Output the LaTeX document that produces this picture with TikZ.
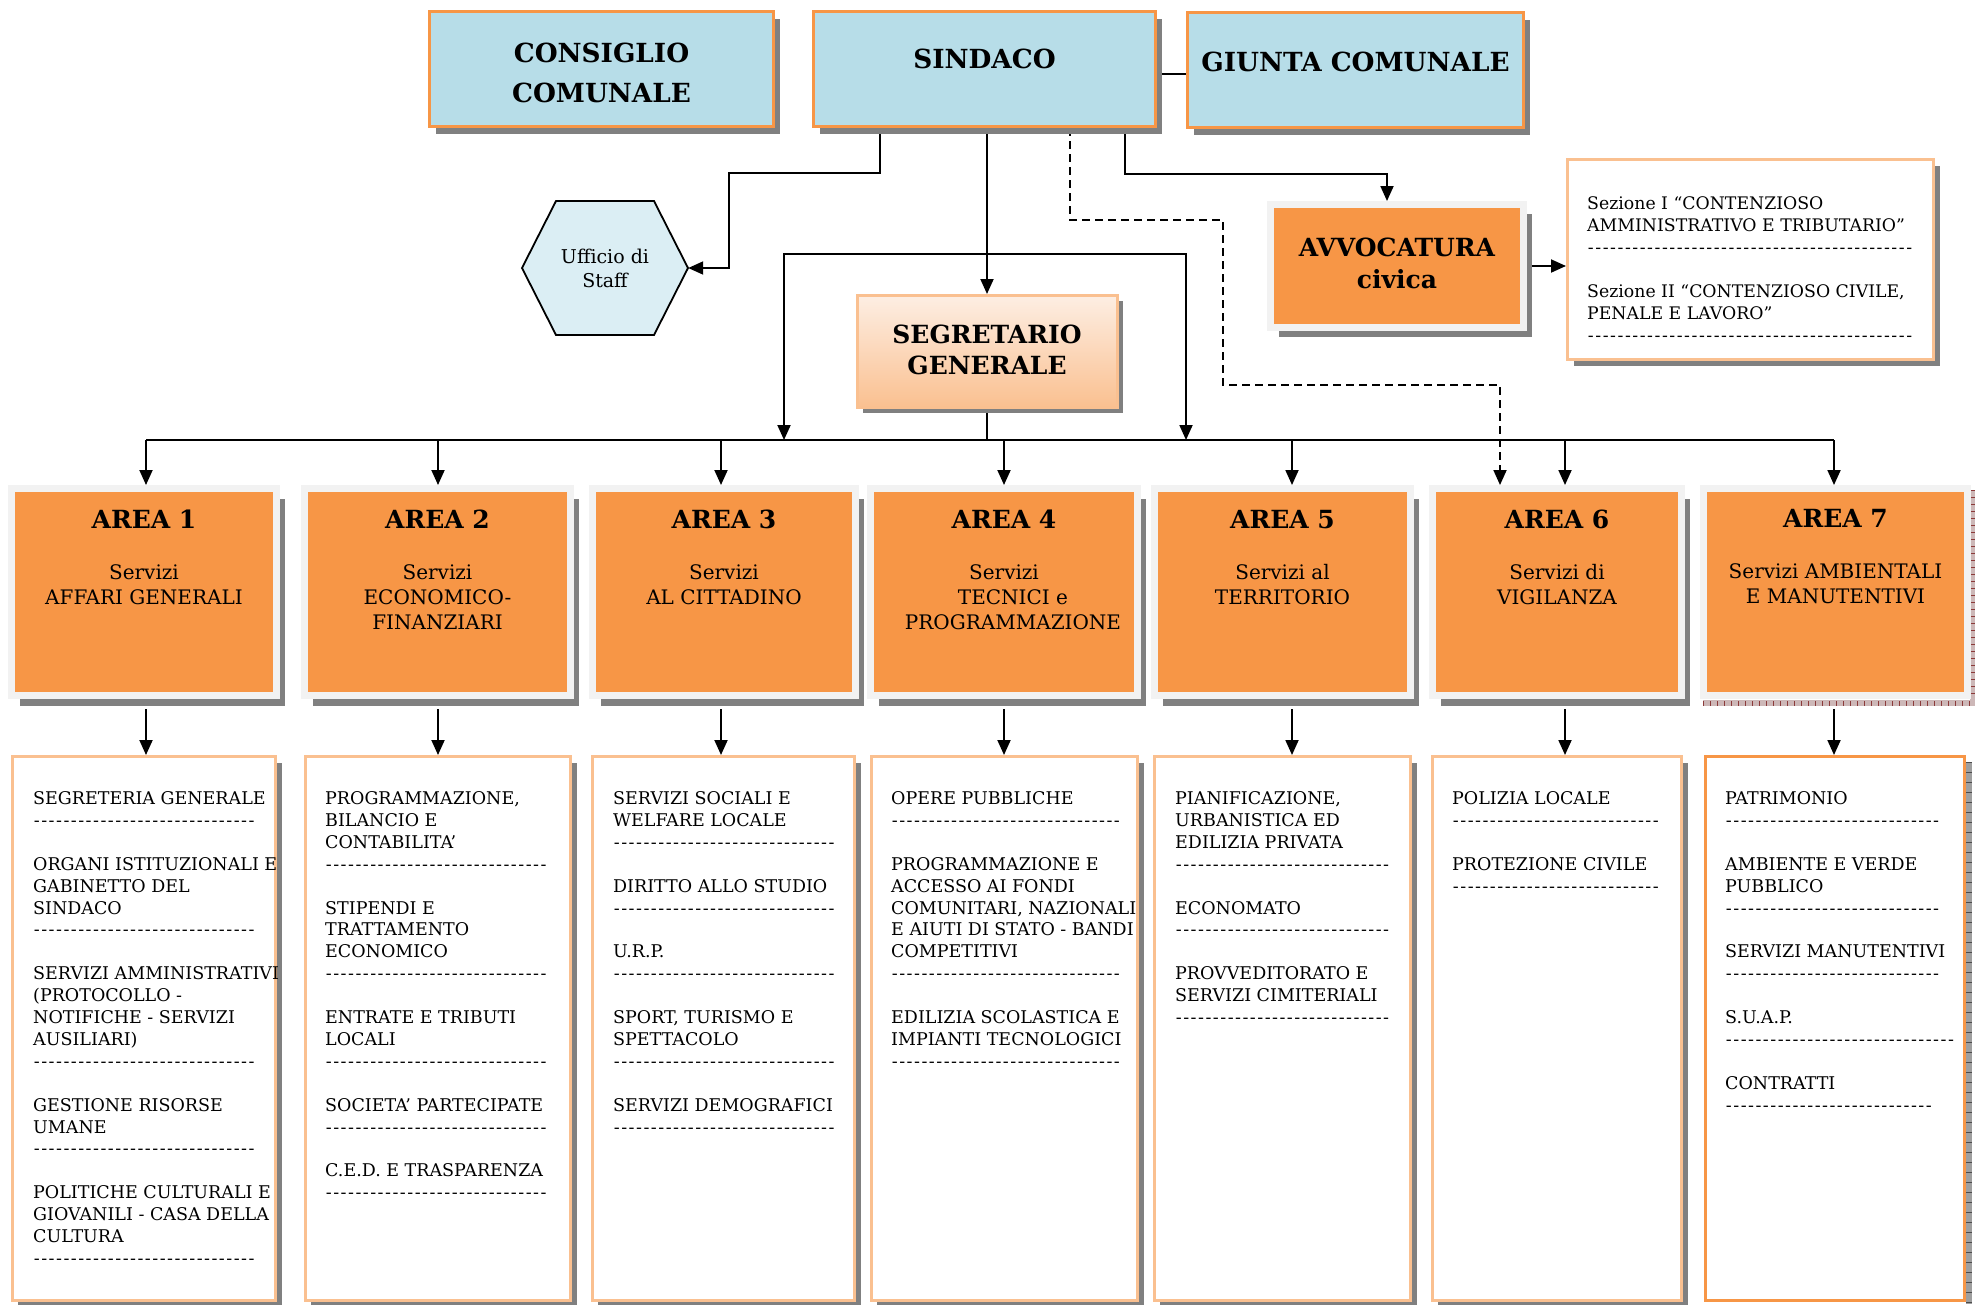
\documentclass[tikz,border=0pt]{standalone}
\usepackage{fontspec}
\setmainfont{DejaVu Serif}
\usetikzlibrary{arrows.meta,shadows,calc,shapes.geometric}
\pgfdeclarelayer{back}
\pgfdeclarelayer{links}
\pgfsetlayers{back,links,main}
\definecolor{topblue}{HTML}{B7DDE8}
\definecolor{hexblue}{HTML}{DBEEF4}
\definecolor{accorange}{HTML}{F79646}
\definecolor{lightorange}{HTML}{FAC090}
\definecolor{palepeach}{HTML}{FDEEE3}
\definecolor{framegray}{HTML}{F2F2F2}
\definecolor{shadowgray}{HTML}{808080}
\definecolor{hatchbase}{HTML}{CDB8B8}
\definecolor{hatchtick}{HTML}{8B3A3A}
\newcommand\fstrut{\rule{0pt}{0.9em}}
\newcommand\dashes[1]{\hbox to \dimexpr 7.4pt*#1\relax{\leaders\hbox to 7.4pt{\hss-\hss}\hfill}}
\begin{document}
\begin{tikzpicture}[x=1pt,y=-1pt,
  myshadow/.style 2 args={drop shadow={shadow xshift=#1pt,shadow yshift=-#2pt,fill=shadowgray,opacity=1}},
  topbox/.style={draw=accorange,line width=3pt,fill=topblue,inner sep=0pt,minimum height=115pt,myshadow={6.5}{7}},
  segbox/.style={draw=lightorange,line width=3pt,top color=palepeach,bottom color=lightorange,inner sep=0pt,minimum width=260pt,minimum height=112pt,myshadow={5.5}{5.5}},
  avvbox/.style={draw=framegray,line width=7pt,fill=accorange,inner sep=0pt,minimum width=253pt,minimum height=123pt,myshadow={8.5}{9.5}},
  sezbox/.style={draw=lightorange,line width=3pt,fill=white,inner sep=0pt,minimum width=366pt,minimum height=200pt,myshadow={6.5}{6.5}},
  areabox/.style={draw=framegray,line width=7pt,fill=accorange,inner sep=0pt,minimum height=207pt},
  areashadow/.style={myshadow={8.5}{10.5}},
  listbox/.style={draw=lightorange,line width=2.7pt,fill=white,inner sep=0pt,minimum height=544.3pt},
  listshadow/.style={myshadow={6}{6.5}},
  conn/.style={line width=1.9pt,draw=black},
  arr/.style={conn,-{Triangle[length=15pt,width=13pt]}},
  dashconn/.style={arr,dash pattern=on 8pt off 5pt},
  txt/.style={inner sep=0pt,anchor=north,align=center},
  ltxt/.style={inner sep=0pt,anchor=north west,align=left},
  bigfont/.style={font=\fontsize{26.3}{40}\selectfont\bfseries},
  titlefont/.style={font=\fontsize{25}{31}\selectfont\bfseries},
  subfont/.style={font=\fontsize{20}{25}\selectfont},
  listfont/.style={font=\fontsize{17.5}{21.9}\selectfont}
]
\begin{pgfonlayer}{back}
\fill[white] (0,0) rectangle (1980,1304);
\end{pgfonlayer}
\useasboundingbox (0,0) rectangle (1980,1304);

% ---- top row
\node[topbox,minimum width=344pt] (consiglio) at (601.5,69) {};
\node[topbox,minimum width=342pt] (sindaco) at (984.5,69) {};
\node[topbox,minimum width=336pt] (giunta) at (1355.5,70) {};

% ---- staff hexagon
\draw[fill=hexblue,line width=1.8pt] (522,268) -- (556,201) -- (654,201) -- (688,268) -- (654,335) -- (556,335) -- cycle;
\node[inner sep=0pt,minimum width=166pt,minimum height=134pt,align=center,font=\fontsize{19}{24}\selectfont] (staff) at (605,268) {Ufficio di\\Staff};

% ---- segretario, avvocatura, sezioni
\node[segbox] (seg) at (987,351.5) {};
\node[avvbox] (avv) at (1397,266) {};
\node[sezbox] (sez) at (1750.5,259.5) {};

% ---- special shadows (area 7, list 7)
\fill[hatchbase] (1703,700) rectangle (1975,706);
\fill[hatchbase] (1970,490) rectangle (1975,706);
\draw[hatchtick,line width=5pt,dash pattern=on 1pt off 6pt] (1703,703) -- (1975,703);
\draw[hatchtick,line width=4pt,dash pattern=on 1pt off 6pt] (1973,490) -- (1973,700);
\fill[gray!75] (1966,762) rectangle (1972,1304);
\draw[black!70,line width=6pt,dash pattern=on 1.2pt off 8.8pt] (1969,762) -- (1969,1304);

% ---- areas
\node[areabox,areashadow,minimum width=265pt] (area1) at (144,592) {};
\node[areabox,areashadow,minimum width=266pt] (area2) at (437.5,592) {};
\node[areabox,areashadow,minimum width=263pt] (area3) at (724,592) {};
\node[areabox,areashadow,minimum width=267pt] (area4) at (1004,592) {};
\node[areabox,areashadow,minimum width=256pt] (area5) at (1282.5,592) {};
\node[areabox,areashadow,minimum width=249pt] (area6) at (1557,592) {};
\node[areabox,minimum width=264pt] (area7) at (1835.5,592) {};

% ---- lists
\node[listbox,listshadow,minimum width=263.3pt] (list1) at (144,1028.5) {};
\node[listbox,listshadow,minimum width=265.3pt] (list2) at (438,1028.5) {};
\node[listbox,listshadow,minimum width=262.3pt] (list3) at (723.5,1028.5) {};
\node[listbox,listshadow,minimum width=266.3pt] (list4) at (1004.5,1028.5) {};
\node[listbox,listshadow,minimum width=256.3pt] (list5) at (1282.5,1028.5) {};
\node[listbox,listshadow,minimum width=249.3pt] (list6) at (1557,1028.5) {};
\node[listbox,draw=accorange,minimum width=259.3pt] (list7) at (1835,1028.5) {};

% ---- helper coordinates
\coordinate (s1) at (880,0);
\coordinate (d1) at (1070,0);
\coordinate (d6) at (1500,0);
\coordinate (a1) at (1125,0);
\coordinate (a2) at (1387,0);
\coordinate (g1) at (0,74);
\coordinate (brc) at (987,254);
\coordinate (brl) at (784,440);
\coordinate (brr) at (1186,440);
\coordinate (b1) at (146,440);
\coordinate (b2) at (438,440);
\coordinate (b3) at (721,440);
\coordinate (b4) at (1004,440);
\coordinate (b5) at (1292,440);
\coordinate (b6) at (1565,440);
\coordinate (b7) at (1834,440);

% ---- connectors
\begin{pgfonlayer}{links}
\draw[conn] (sindaco.east |- g1) -- (giunta.west |- g1);
\draw[arr] (sindaco.south -| s1) -- (880,173) -| (729,268) -- (staff.east);
\draw[arr] (sindaco.south -| seg.north) -- (seg.north);
\draw[arr] (brc) -| (brl);
\draw[arr] (brc) -| (brr);
\draw[dashconn] (sindaco.south -| d1) -- (1070,220) -| (1223,385) -| (d6 |- area6.north);
\draw[arr] (sindaco.south -| a1) -- (1125,174) -| (a2 |- avv.north);
\draw[arr] (avv.east) -- (avv.east -| sez.west);
\draw[conn] (seg.south) -- (seg.south |- b1);
\draw[conn] (b1) -- (b7);
\foreach \i in {1,...,7}{
  \draw[arr] (b\i) -- (b\i |- area\i.north);
  \draw[arr] ($(b\i |- area\i.south)+(0,10)$) -- (b\i |- list\i.north);
}
\end{pgfonlayer}

% ---- texts
\node[txt,bigfont] (consT) at (601.5,38.9) {\fstrut CONSIGLIO\\COMUNALE};
\node[txt,bigfont] (sinT) at (984.5,44.9) {\fstrut SINDACO};
\node[txt,bigfont] (giuT) at (1355.5,47.9) {\fstrut GIUNTA COMUNALE};
\node[txt,titlefont] (segT) at (987,320.6) {\fstrut SEGRETARIO\\GENERALE};
\node[txt,font=\fontsize{25}{32}\selectfont\bfseries] (avvT) at (1397,233.6) {\fstrut AVVOCATURA\\civica};
\node[ltxt,font=\fontsize{17.3}{22}\selectfont] (sezT) at (1587,193.7) {\fstrut Sezione I “CONTENZIOSO\\AMMINISTRATIVO E TRIBUTARIO”\\\dashes{44}\\[22pt]Sezione II “CONTENZIOSO CIVILE,\\PENALE E LAVORO”\\\dashes{44}};

\node[txt,titlefont] (a1T) at (144,505.6) {\fstrut AREA 1};
\node[txt,titlefont] (a2T) at (437.5,505.6) {\fstrut AREA 2};
\node[txt,titlefont] (a3T) at (724,505.6) {\fstrut AREA 3};
\node[txt,titlefont] (a4T) at (1004,505.6) {\fstrut AREA 4};
\node[txt,titlefont] (a5T) at (1282.5,505.6) {\fstrut AREA 5};
\node[txt,titlefont] (a6T) at (1557,505.6) {\fstrut AREA 6};
\node[txt,titlefont] (a7T) at (1835.5,504.6) {\fstrut AREA 7};

\node[txt,subfont] (a1S) at (144,561.3) {\fstrut Servizi\\AFFARI GENERALI};
\node[txt,subfont] (a2S) at (437.5,561.3) {\fstrut Servizi\\ECONOMICO-\\FINANZIARI};
\node[txt,subfont] (a3S) at (724,561.3) {\fstrut Servizi\\AL CITTADINO};
\node[txt,subfont] (a4S) at (1004,561.3) {\fstrut Servizi\\\hspace*{18pt}TECNICI e\\\hspace*{18pt}PROGRAMMAZIONE};
\node[txt,subfont] (a5S) at (1282.5,561.3) {\fstrut Servizi al\\TERRITORIO};
\node[txt,subfont] (a6S) at (1557,561.3) {\fstrut Servizi di\\VIGILANZA};
\node[txt,subfont] (a7S) at (1835.5,560.3) {\fstrut Servizi AMBIENTALI\\E MANUTENTIVI};

\node[ltxt,listfont] (l1T) at (33,788.6) {\fstrut SEGRETERIA GENERALE\\\dashes{30}\\[21.9pt]ORGANI ISTITUZIONALI E\\GABINETTO DEL\\SINDACO\\\dashes{30}\\[21.9pt]SERVIZI AMMINISTRATIVI\\(PROTOCOLLO -\\NOTIFICHE - SERVIZI\\AUSILIARI)\\\dashes{30}\\[21.9pt]GESTIONE RISORSE\\UMANE\\\dashes{30}\\[21.9pt]POLITICHE CULTURALI E\\GIOVANILI - CASA DELLA\\CULTURA\\\dashes{30}};
\node[ltxt,listfont] (l2T) at (325,788.6) {\fstrut PROGRAMMAZIONE,\\BILANCIO E\\CONTABILITA’\\\dashes{30}\\[21.9pt]STIPENDI E\\TRATTAMENTO\\ECONOMICO\\\dashes{30}\\[21.9pt]ENTRATE E TRIBUTI\\LOCALI\\\dashes{30}\\[21.9pt]SOCIETA’ PARTECIPATE\\\dashes{30}\\[21.9pt]C.E.D. E TRASPARENZA\\\dashes{30}};
\node[ltxt,listfont] (l3T) at (613,788.6) {\fstrut SERVIZI SOCIALI E\\WELFARE LOCALE\\\dashes{30}\\[21.9pt]DIRITTO ALLO STUDIO\\\dashes{30}\\[21.9pt]U.R.P.\\\dashes{30}\\[21.9pt]SPORT, TURISMO E\\SPETTACOLO\\\dashes{30}\\[21.9pt]SERVIZI DEMOGRAFICI\\\dashes{30}};
\node[ltxt,listfont] (l4T) at (891,788.6) {\fstrut OPERE PUBBLICHE\\\dashes{31}\\[21.9pt]PROGRAMMAZIONE E\\ACCESSO AI FONDI\\COMUNITARI, NAZIONALI\\E AIUTI DI STATO - BANDI\\COMPETITIVI\\\dashes{31}\\[21.9pt]EDILIZIA SCOLASTICA E\\IMPIANTI TECNOLOGICI\\\dashes{31}};
\node[ltxt,listfont] (l5T) at (1175,788.6) {\fstrut PIANIFICAZIONE,\\URBANISTICA ED\\EDILIZIA PRIVATA\\\dashes{29}\\[21.9pt]ECONOMATO\\\dashes{29}\\[21.9pt]PROVVEDITORATO E\\SERVIZI CIMITERIALI\\\dashes{29}};
\node[ltxt,listfont] (l6T) at (1452,788.6) {\fstrut POLIZIA LOCALE\\\dashes{28}\\[21.9pt]PROTEZIONE CIVILE\\\dashes{28}};
\node[ltxt,listfont] (l7T) at (1725,788.6) {\fstrut PATRIMONIO\\\dashes{29}\\[21.9pt]AMBIENTE E VERDE\\PUBBLICO\\\dashes{29}\\[21.9pt]SERVIZI MANUTENTIVI\\\dashes{29}\\[21.9pt]S.U.A.P.\\\dashes{31}\\[21.9pt]CONTRATTI\\\dashes{28}};
\end{tikzpicture}
\end{document}
